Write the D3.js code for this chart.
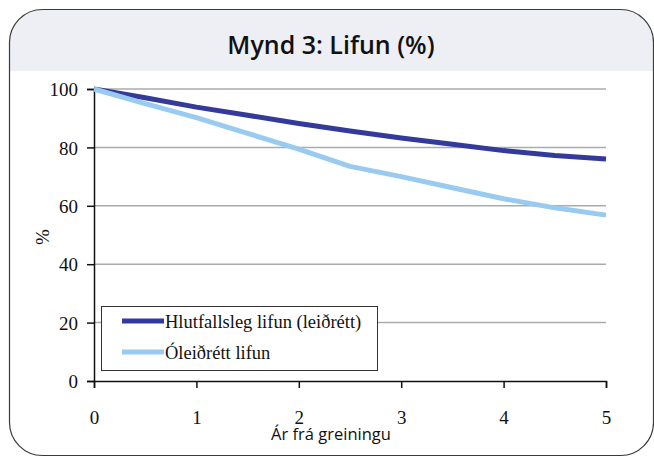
<!DOCTYPE html>
<html><head><meta charset="utf-8">
<script src="https://cdn.jsdelivr.net/npm/d3@7"></script>
<style>html,body{margin:0;padding:0;background:#fff;}svg{display:block;}</style>
</head><body>
<svg id="chart" width="654" height="457"></svg>
<script>
const title = "Mynd 3: Lifun (%)";
const xTitle = "Ár frá greiningu";
const yTitle = "%";
const years = [0, 0.5, 1, 1.5, 2, 2.5, 3, 3.5, 4, 4.5, 5];
const seriesNames = ["Hlutfallsleg lifun (leiðrétt)", "Óleiðrétt lifun"];
const relative = [100, 97.0, 93.8, 91.0, 88.2, 85.6, 83.2, 81.1, 78.9, 77.2, 76.0];
const observed = [100, 95.0, 90.2, 84.8, 79.4, 73.5, 70.0, 66.2, 62.4, 59.3, 56.8];
const xTicks = [0, 1, 2, 3, 4, 5];
const yTicks = [0, 20, 40, 60, 80, 100];
const colors = ["#343a9a", "#98cbef"];
const serif = "'Liberation Serif', 'Times New Roman', serif";

const svg = d3.select("#chart");
const clipR = svg.append("defs").append("clipPath").attr("id","band");
clipR.append("rect").attr("x",0).attr("y",0).attr("width",654).attr("height",71);
svg.append("rect").attr("x",9.5).attr("y",9.5).attr("width",644).attr("height",446)
  .attr("rx",33).attr("ry",33).attr("fill","#eeeff5").attr("clip-path","url(#band)");
svg.append("rect").attr("x",9.5).attr("y",9.5).attr("width",644).attr("height",446)
  .attr("rx",33).attr("ry",33).attr("fill","none").attr("stroke","#3a3a3a").attr("stroke-width",1.2);

svg.append("text").attr("x", 331).attr("y", 54).attr("text-anchor","middle")
  .style("font-family","'Open Sans', sans-serif").style("font-weight",600).style("font-size","25px")
  .attr("fill","#111").text(title);

const x = d3.scaleLinear().domain([0,5]).range([94, 606]);
const y = d3.scaleLinear().domain([0,100]).range([381, 89]);

// gridlines
svg.append("g").selectAll("line").data(yTicks.filter(d=>d>0)).join("line")
  .attr("x1", x(0)).attr("x2", x(5)).attr("y1", d=>y(d)).attr("y2", d=>y(d))
  .attr("stroke","#a9abae").attr("stroke-width",1.5);

// axes
const yAxis = svg.append("g").attr("transform",`translate(${x(0)},0)`)
  .call(d3.axisLeft(y).tickValues(yTicks).tickFormat(d3.format("d")).tickSize(7).tickPadding(9));
const xAxis = svg.append("g").attr("transform",`translate(0,${y(0)})`)
  .call(d3.axisBottom(x).tickValues(xTicks).tickFormat(d3.format("d")).tickSize(7).tickPadding(23));
[yAxis, xAxis].forEach(a => {
  a.attr("font-family", null).attr("font-size", null);
  a.select(".domain").attr("stroke","#111").attr("stroke-width",1.5);
  a.selectAll(".tick line").attr("stroke","#111").attr("stroke-width",1.5);
  a.selectAll("text").style("font-family", serif).style("font-size","19px").attr("fill","#111");
});
yAxis.selectAll("text").attr("dy","0.35em");

// lines
const line = d3.line().x((d,i)=>x(years[i])).y(d=>y(d));
[relative, observed].forEach((s,i)=>{
  svg.append("path").datum(s).attr("d", line).attr("fill","none")
    .attr("stroke", colors[i]).attr("stroke-width",5).attr("stroke-linejoin","round");
});

// axis titles
svg.append("text").attr("x", 331).attr("y", 440).attr("text-anchor","middle")
  .style("font-family","'Open Sans', sans-serif").style("font-size","16.5px").attr("fill","#111").text(xTitle);
svg.append("text").attr("transform","translate(49,237) rotate(-90)").attr("text-anchor","middle")
  .style("font-family", serif).style("font-size","19px").attr("fill","#111").text(yTitle);

// legend
const lg = svg.append("g");
lg.append("rect").attr("x",101.5).attr("y",306.5).attr("width",276).attr("height",64)
  .attr("fill","#fff").attr("stroke","#333").attr("stroke-width",1);
seriesNames.forEach((n,i)=>{
  const yy = 321 + i*31;
  lg.append("line").attr("x1",122).attr("x2",164).attr("y1",yy).attr("y2",yy)
    .attr("stroke",colors[i]).attr("stroke-width",5);
  lg.append("text").attr("x",165).attr("y",yy+7).style("font-family", serif)
    .style("font-size","18.5px").attr("fill","#111").text(n);
});
</script>
</body></html>
